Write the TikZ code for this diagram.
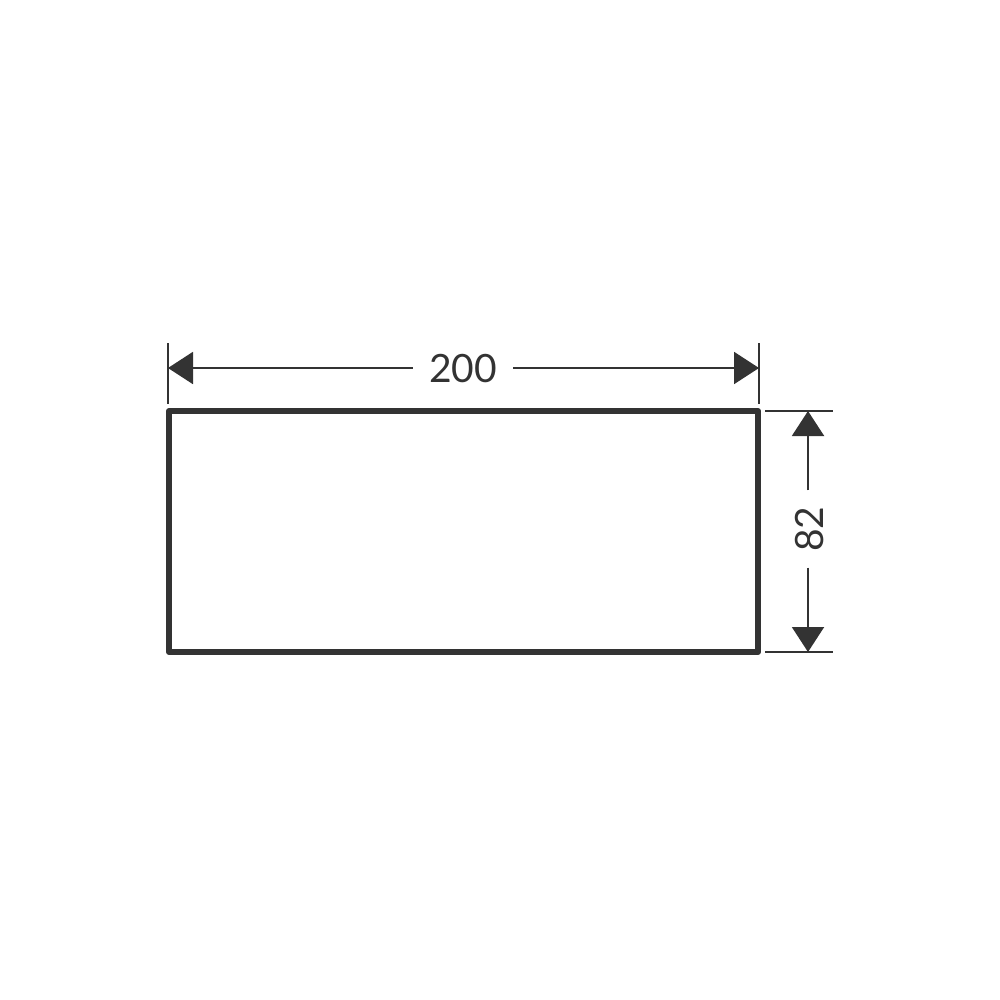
\documentclass[tikz,border=0pt]{standalone}
\usepackage{fontspec}
\setmainfont{Lato}
\usetikzlibrary{arrows.meta}
\definecolor{ink}{HTML}{333333}
\tikzset{
  dimline/.style={draw=ink, line width=2pt, -{Triangle[length=25pt,width=32pt]}},
  extline/.style={draw=ink, line width=2pt},
  outline/.style={draw=ink, line width=6pt, line join=round},
  dimtext/.style={text=ink, font=\fontsize{39}{39}\selectfont, inner sep=0pt}
}
\begin{document}
\begin{tikzpicture}[x=1pt,y=-1pt]
\useasboundingbox (0,0) rectangle (1000,1000);
% rectangle
\draw[outline] (169,411) rectangle (758,652);
% horizontal dimension
\coordinate (hl) at (168,368);
\coordinate (hr) at (759,368);
\draw[extline] (168,343) -- (168,404);
\draw[extline] (759,343) -- (759,404);
\node[dimtext, minimum width=100pt] (t200) at (463,369) {200};
\draw[dimline] (t200.west |- hl) -- (hl);
\draw[dimline] (t200.east |- hr) -- (hr);
% vertical dimension
\coordinate (vt) at (808,411);
\coordinate (vb) at (808,652);
\draw[extline] (765,411) -- (833,411);
\draw[extline] (765,652) -- (833,652);
\node[dimtext, rotate=90, minimum width=77pt] (t82) at (810,529) {82};
\draw[dimline] (vt |- t82.east) -- (vt);
\draw[dimline] (vb |- t82.west) -- (vb);
\end{tikzpicture}
\end{document}
